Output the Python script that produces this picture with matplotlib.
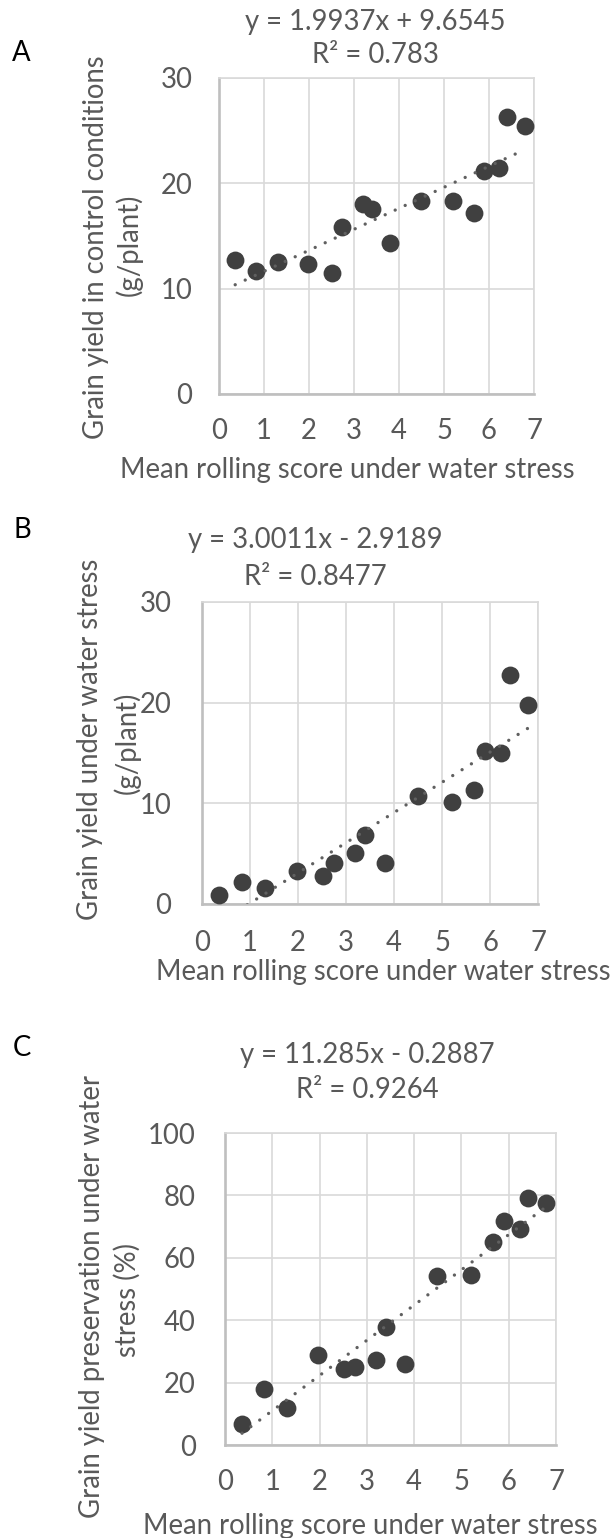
import matplotlib
matplotlib.use("Agg")
import matplotlib.pyplot as plt
import numpy as np
from matplotlib.textpath import TextPath
from matplotlib.font_manager import FontProperties

# ---------------- data ----------------
rolling_score = [0.36, 0.83, 1.31, 1.97, 2.52, 2.74, 3.19, 3.40, 3.81, 4.49,
                 5.20, 5.67, 5.89, 6.23, 6.41, 6.79]
yield_control = [12.7, 11.7, 12.5, 12.3, 11.5, 15.9, 18.0, 17.6, 14.3, 18.3,
                 18.3, 17.2, 21.2, 21.5, 26.3, 25.4]
yield_stress = [0.9, 2.2, 1.6, 3.3, 2.8, 4.1, 5.1, 6.9, 4.1, 10.7,
                10.1, 11.3, 15.2, 15.0, 22.7, 19.8]
yield_preservation = [6.8, 18.0, 12.0, 29.0, 24.3, 24.9, 27.3, 37.9, 25.9, 54.3,
                      54.6, 65.2, 71.8, 69.2, 79.2, 77.6]

slopes = [1.9937, 3.0011, 11.285]
intercepts = [9.6545, -2.9189, -0.2887]
equation_texts = ["y = 1.9937x + 9.6545", "y = 3.0011x - 2.9189", "y = 11.285x - 0.2887"]
r2_texts = ["R\u00b2 = 0.783", "R\u00b2 = 0.8477", "R\u00b2 = 0.9264"]
panel_letters = ["A", "B", "C"]
ylabel_lines = [("Grain yield in control conditions", "(g/plant)"),
                ("Grain yield under water stress", "(g/plant)"),
                ("Grain yield preservation under water", "stress (%)")]
xlabel_text = "Mean rolling score under water stress"
x_ticks = [0, 1, 2, 3, 4, 5, 6, 7]
y_ticks_list = [[0, 10, 20, 30], [0, 10, 20, 30], [0, 20, 40, 60, 80, 100]]

# ---------------- layout (pixels) ----------------
W, H = 610, 1538
FONT = "Lato"
TXT = "#595959"
plt.rcParams["font.family"] = [FONT, "DejaVu Sans"]


def fit_size(text, target_px):
    fp = FontProperties(family=FONT)
    w = TextPath((0, 0), text, size=100, prop=fp).get_extents().width
    return 100 * target_px / (w * 100 / 72)


FS = fit_size(xlabel_text, 452)

layout = [
    dict(rect=(219, 78, 534, 394), letter=(12, 53), title_x=375, title_y=(22, 55),
         xlab=(347, 470), ylab1=(96, 247), ylab2=(129, 245), xpad=17, ypad=19),
    dict(rect=(202, 602, 538, 904), letter=(13, 530), title_x=315, title_y=(540, 577),
         xlab=(383, 972), ylab1=(90, 739), ylab2=(127, 743), xpad=19, ypad=22),
    dict(rect=(225, 1133, 556, 1445), letter=(13, 1048), title_x=367, title_y=(1055, 1090),
         xlab=(370, 1526), ylab1=(92, 1297), ylab2=(127, 1300), xpad=17, ypad=21),
]

series = [yield_control, yield_stress, yield_preservation]

fig = plt.figure(figsize=(W / 100, H / 100), dpi=100)


def fx(px):
    return px / W


def fy(py):
    return 1 - py / H


x = np.array(rolling_score)
for i, L in enumerate(layout):
    l, t, r, b = L["rect"]
    ax = fig.add_axes([fx(l), fy(b), (r - l) / W, (b - t) / H])
    y = np.array(series[i])
    ax.scatter(x, y, s=165, color="#404040", linewidths=0, zorder=3, clip_on=False)
    xs = np.array([x.min(), x.max()])
    ax.plot(xs, slopes[i] * xs + intercepts[i], linestyle=(0, (0.01, 3.3)), lw=2.4,
            color="#606060", zorder=4, dash_capstyle="round")
    yt = y_ticks_list[i]
    ax.set_xlim(x_ticks[0], x_ticks[-1])
    ax.set_ylim(yt[0], yt[-1])
    ax.set_xticks(x_ticks)
    ax.set_yticks(yt)
    ax.grid(True, color="#d9d9d9", lw=1.2)
    ax.set_axisbelow(True)
    for side in ["top", "right"]:
        ax.spines[side].set_color("#d9d9d9")
        ax.spines[side].set_linewidth(1.2)
    for side in ["left", "bottom"]:
        ax.spines[side].set_color("#bfbfbf")
        ax.spines[side].set_linewidth(1.9)
    ax.tick_params(axis="x", length=0, labelsize=FS, labelcolor=TXT, pad=L["xpad"])
    ax.tick_params(axis="y", length=0, labelsize=FS, labelcolor=TXT, pad=L["ypad"])

    fig.text(fx(L["letter"][0]), fy(L["letter"][1]), panel_letters[i], ha="left",
             va="center", fontsize=FS, color="black")
    fig.text(fx(L["title_x"]), fy(L["title_y"][0]), equation_texts[i], ha="center",
             va="center", fontsize=FS, color=TXT)
    fig.text(fx(L["title_x"]), fy(L["title_y"][1]), r2_texts[i], ha="center",
             va="center", fontsize=FS, color=TXT)
    fig.text(fx(L["xlab"][0]), fy(L["xlab"][1]), xlabel_text, ha="center",
             va="center", fontsize=FS, color=TXT)
    fig.text(fx(L["ylab1"][0]), fy(L["ylab1"][1]), ylabel_lines[i][0], ha="center",
             va="center", rotation=90, fontsize=FS, color=TXT)
    fig.text(fx(L["ylab2"][0]), fy(L["ylab2"][1]), ylabel_lines[i][1], ha="center",
             va="center", rotation=90, fontsize=FS, color=TXT)

fig.savefig("out.png", dpi=100, facecolor="white")
